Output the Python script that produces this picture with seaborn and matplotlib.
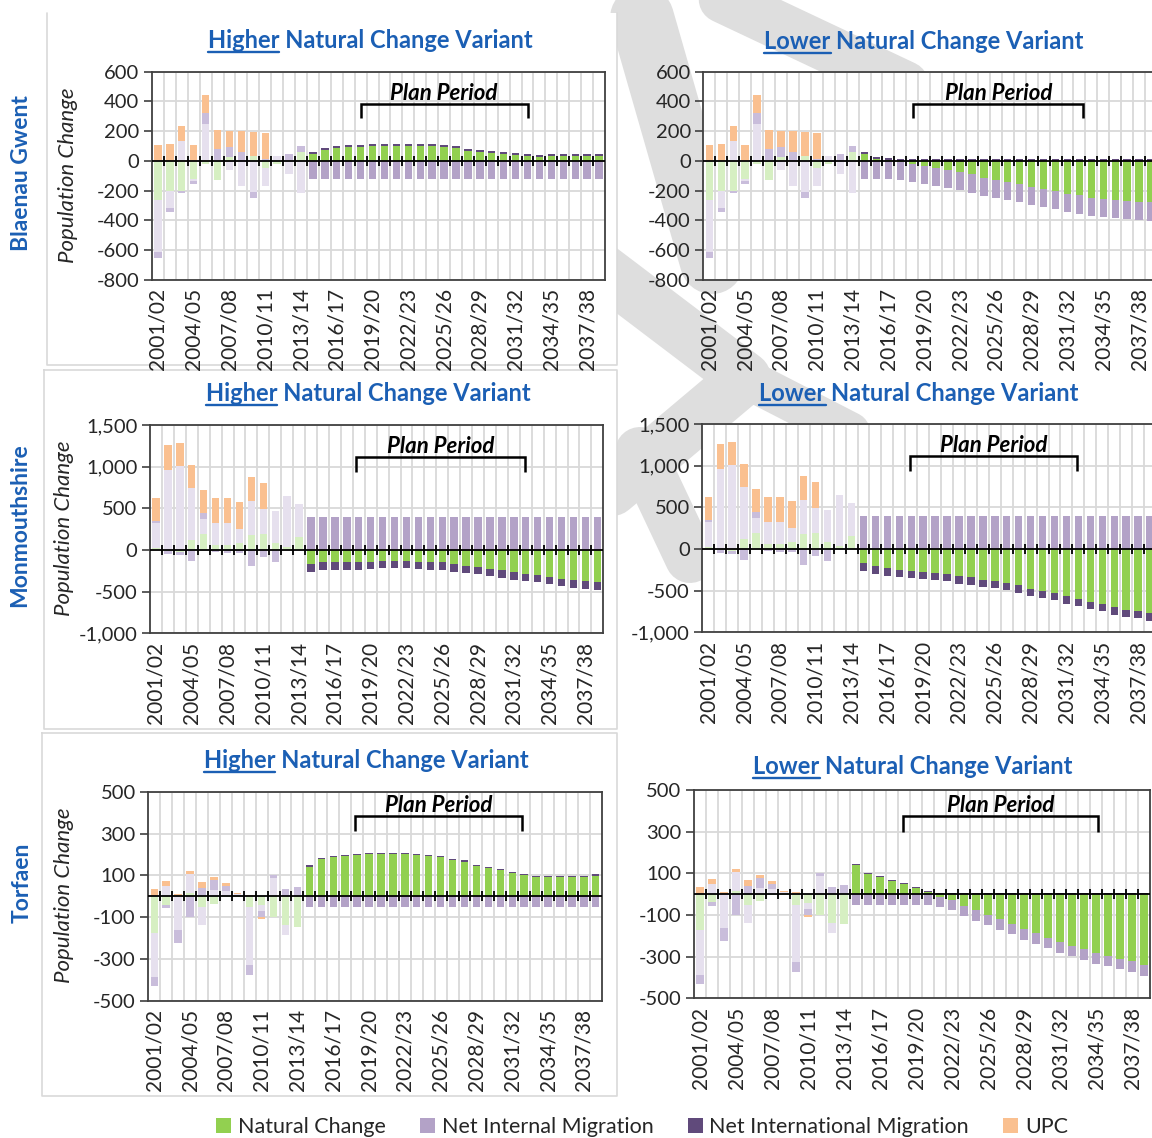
import numpy as np
import pandas as pd
import matplotlib
matplotlib.use("Agg")
import matplotlib.pyplot as plt
import matplotlib.transforms as mtransforms
from matplotlib.patches import Patch, Rectangle
from matplotlib.lines import Line2D
from matplotlib.ticker import FuncFormatter
import seaborn as sns

# ---------------------------------------------------------------- categories
years = ["2001/02", "2002/03", "2003/04", "2004/05", "2005/06", "2006/07",
         "2007/08", "2008/09", "2009/10", "2010/11", "2011/12", "2012/13",
         "2013/14", "2014/15", "2015/16", "2016/17", "2017/18", "2018/19",
         "2019/20", "2020/21", "2021/22", "2022/23", "2023/24", "2024/25",
         "2025/26", "2026/27", "2027/28", "2028/29", "2029/30", "2030/31",
         "2031/32", "2032/33", "2033/34", "2034/35", "2035/36", "2036/37",
         "2037/38", "2038/39"]
period = ["Recorded"] * 13 + ["Projected"] * 25
series_names = ["Natural Change", "Net Internal Migration",
                "Net International Migration", "UPC"]

# ---------------------------------------------------------------- Blaenau Gwent
bg_hist_natural = [-260, -203, -203, -118, -18, -130, 25, 3, 31, -45, -18, 0, 60]
bg_hist_internal = [-355, -116, 134, -15, 250, 5, -63, -170, -208, -125, 31, -89, -215]
bg_hist_intl = [-35, -22, -11, -25, 72, 75, 72, 60, -38, 10, 0, 49, 38]
bg_hist_upc = [105, 112, 98, 105, 123, 128, 103, 141, 165, 177, 0, 0, 0]
bg_proj_internal = [-123, -123, -123, -123, -123, -123, -123, -123, -123, -123,
                    -123, -123, -123, -123, -123, -123, -123, -123, -123, -123,
                    -123, -123, -123, -123, -123]
bg_proj_intl = [15, 13, 13, 13, 13, 13, 13, 13, 13, 13, 13, 13, 13, 13, 13,
                13, 13, 13, 13, 13, 13, 13, 13, 13, 13]
bg_high_natural = [47, 76, 85, 92, 92, 98, 98, 98, 98, 98, 98, 92, 85, 69, 63,
                   54, 47, 40, 31, 25, 31, 31, 31, 31, 36]
bg_low_natural = [45, 11, 5, -5, -18, -31, -45, -58, -74, -89, -112, -125, -141,
                  -156, -174, -188, -203, -219, -232, -246, -255, -259, -268,
                  -275, -279]

# ---------------------------------------------------------------- Monmouthshire
mon_hist_natural = [20, -15, -20, 120, 188, 60, 60, 80, 180, 192, 80, 40, 152]
mon_hist_internal = [300, 965, 1008, 620, 184, 260, 260, 172, 412, 300, 392, 608, 396]
mon_hist_intl = [28, -30, -45, -132, 68, -20, -32, -40, -188, -88, -148, -5, 0]
mon_hist_upc = [272, 295, 280, 280, 280, 300, 300, 328, 280, 316, 0, 0, 0]
mon_proj_internal = [400, 400, 400, 400, 400, 400, 400, 400, 400, 400, 400, 400,
                     400, 400, 400, 400, 400, 400, 400, 400, 400, 400, 400, 400, 400]
mon_proj_intl = [-96, -92, -92, -92, -90, -90, -90, -90, -90, -88, -90, -90, -88,
                 -90, -88, -88, -88, -90, -88, -90, -90, -88, -88, -90, -90]
mon_high_natural = [-172, -148, -148, -148, -148, -140, -132, -132, -132, -140,
                    -148, -150, -172, -188, -200, -228, -244, -268, -288, -300,
                    -320, -348, -364, -376, -388]
mon_low_natural = [-168, -208, -228, -248, -260, -276, -288, -300, -328, -340,
                   -368, -380, -408, -436, -476, -500, -528, -568, -600, -636,
                   -660, -700, -728, -744, -772]

# ---------------------------------------------------------------- Torfaen
tor_hist_natural = [-174, -40, 3, 14, -54, -35, -6, -5, -54, -41, -100, -140, -145]
tor_hist_internal = [-214, 51, -164, 91, -86, 29, 25, 10, -274, -32, 87, -45, 0]
tor_hist_intl = [-41, -16, -62, -100, 41, 48, 24, 0, -48, -27, 16, 35, 46]
tor_hist_upc = [35, 22, 8, 16, 26, 16, 16, 5, 8, -8, 0, 0, 0]
tor_proj_internal = [-50, -50, -50, -50, -50, -50, -50, -50, -50, -50, -50, -50,
                     -50, -50, -50, -50, -50, -50, -50, -50, -50, -50, -50, -50, -50]
tor_proj_intl = [5, 5, 5, 5, 5, 5, 5, 5, 5, 5, 5, 5, 5, 5, 5, 5, 5, 5, 5, 5, 5,
                 5, 5, 5, 5]
tor_high_natural = [142, 180, 186, 190, 198, 203, 203, 203, 203, 198, 191, 186,
                    175, 166, 143, 134, 123, 112, 100, 94, 94, 94, 94, 94, 99]
tor_low_natural = [138, 96, 80, 64, 48, 30, 8, -14, -27, -56, -78, -99, -120,
                   -142, -168, -187, -210, -232, -248, -264, -283, -296, -309,
                   -323, -341]

# ---------------------------------------------------------------- style
sns.set_theme(style="white")
plt.rcParams["font.family"] = ["Lato", "DejaVu Sans"]
plt.rcParams["axes.unicode_minus"] = False

BLUE = "#1B5FB4"
DARK = "#404040"
GRID = "#D9D9D9"
TEXT = "#262626"
MARK = "#DEDEDE"
PROJ_COLORS = ["#92D050", "#B3A2C7", "#604A7B", "#FAC090"]
HIST_COLORS = ["#D6EFC2", "#E6E0EE", "#C9BDDB", "#FAC090"]

W, H = 1152, 1138
fig = plt.figure(figsize=(W / 100, H / 100), dpi=100)
fig.patch.set_facecolor("white")


def fx(x):
    return x / W


def fy(y):
    return 1 - y / H


def add_axes_px(left, top, right, bottom):
    return fig.add_axes([fx(left), fy(bottom), (right - left) / W, (bottom - top) / H])


def frame_line(points):
    fig.add_artist(Line2D([fx(p[0]) for p in points], [fy(p[1]) for p in points],
                          transform=fig.transFigure, color=GRID, lw=1.2, zorder=-1))


def white_box(left, top, right, bottom):
    fig.add_artist(Rectangle((fx(left), fy(bottom)), (right - left) / W,
                             (bottom - top) / H, transform=fig.transFigure,
                             fc="white", ec="none", zorder=-1.5))


def mark_stroke(points, width_px):
    fig.add_artist(Line2D([fx(p[0]) for p in points], [fy(p[1]) for p in points],
                          transform=fig.transFigure, color=MARK,
                          lw=width_px * 0.72, solid_capstyle="round",
                          solid_joinstyle="round", zorder=-2))


def draw_panel(ax, natural, internal, intl, upc, ylim, yticks, bracket, bracket_y):
    vals = np.array([natural, internal, intl, upc], dtype=float)
    pos = np.cumsum(np.clip(vals, 0, None), axis=0)
    neg = np.cumsum(np.clip(vals, None, 0), axis=0)
    # stacked segments: draw cumulative totals from the outermost series inward
    for k in range(3, -1, -1):
        pal = {"Recorded": HIST_COLORS[k], "Projected": PROJ_COLORS[k]}
        for stack in (pos[k], neg[k]):
            df = pd.DataFrame({"year": years, "change": stack, "period": period})
            sns.barplot(data=df, x="year", y="change", hue="period", order=years,
                        hue_order=["Recorded", "Projected"], palette=pal,
                        dodge=False, width=0.62, saturation=1, errorbar=None,
                        legend=False, linewidth=0, ax=ax, zorder=2)
    ax.set_xlabel("")
    ax.set_ylabel("")
    ax.set_facecolor("white")
    ax.set_axisbelow(True)
    ax.yaxis.grid(True, color=GRID, lw=1.3)
    ax.xaxis.grid(False)
    for b in np.arange(0.5, len(years) - 1, 1.0):
        ax.axvline(b, color=GRID, lw=1.3, zorder=0.5)

    ax.set_xlim(-0.5, len(years) - 0.5)
    ax.set_ylim(*ylim)
    ax.set_yticks(yticks)
    ax.yaxis.set_major_formatter(FuncFormatter(lambda v, p: f"{v:,.0f}"))
    ax.tick_params(axis="y", left=True, length=6, width=1.2, color=DARK,
                   labelsize=14.5, labelcolor=TEXT, pad=3)
    ax.set_xticks(range(0, len(years), 3))
    ax.set_xticklabels(years[::3], rotation=90)
    ax.tick_params(axis="x", bottom=False, length=0, labelsize=15,
                   labelcolor=TEXT, pad=6)
    for s in ax.spines.values():
        s.set_visible(True)
        s.set_color(DARK)
        s.set_linewidth(1.3)

    # category axis sits on the zero line, with crossing tick marks
    ax.axhline(0, color="black", lw=1.3, zorder=4)
    h_px = ax.get_position().height * H
    y0 = (0 - ylim[0]) / (ylim[1] - ylim[0])
    d = 5.0 / h_px
    trans = mtransforms.blended_transform_factory(ax.transData, ax.transAxes)
    ax.vlines(np.arange(0.5, len(years) - 1, 1.0), y0 - d, y0 + d,
              transform=trans, color="black", lw=1.3, zorder=4)

    # plan period bracket
    l, r = bracket
    yb, yt = bracket_y
    ax.plot([l, l, r, r], [yb, yt, yt, yb], color="black", lw=1.8, zorder=5,
            solid_joinstyle="miter", solid_capstyle="butt")
    off = mtransforms.offset_copy(ax.transData, fig=fig, y=4, units="dots")
    ax.text((l + r) / 2, yt, "Plan Period", transform=off, ha="center",
            va="baseline", fontsize=16, fontweight="bold", fontstyle="italic",
            color="black", zorder=6)
    ax.set_ylim(*ylim)


renderer = fig.canvas.get_renderer()
TITLE_SIZE = 17


def panel_title(xc, baseline, word):
    rest = " Natural Change Variant"
    t = fig.text(fx(xc), fy(baseline), word + rest, ha="center", va="baseline",
                 fontsize=TITLE_SIZE, fontweight="bold", color=BLUE)
    bb = t.get_window_extent(renderer)
    probe = fig.text(0, 0, word, fontsize=TITLE_SIZE, fontweight="bold")
    wpx = probe.get_window_extent(renderer).width
    probe.remove()
    yline = fy(baseline + 4)
    fig.add_artist(Line2D([bb.x0 / W, (bb.x0 + wpx) / W], [yline, yline],
                          transform=fig.transFigure, color=BLUE, lw=1.7))


# ---------------------------------------------------------------- background mark
mark_stroke([(693, -15), (905, 85)], 48)
mark_stroke([(642, 18), (712, 262)], 64)
mark_stroke([(600, 268), (745, 378), (612, 490)], 52)
mark_stroke([(745, 378), (850, 432)], 40)
mark_stroke([(640, 452), (690, 558)], 50)

# ---------------------------------------------------------------- chart frames
white_box(47, 13, 617, 365)
white_box(44, 370, 617, 729)
white_box(42, 733, 617, 1096)
frame_line([(47, 13), (47, 365), (617, 365), (617, 13)])
frame_line([(44, 370), (617, 370), (617, 729), (44, 729), (44, 370)])
frame_line([(42, 733), (617, 733), (617, 1096), (42, 1096), (42, 733)])

# ---------------------------------------------------------------- panels
bg_ticks = [-800, -600, -400, -200, 0, 200, 400, 600]
mon_ticks = [-1000, -500, 0, 500, 1000, 1500]
tor_ticks = [-500, -300, -100, 100, 300, 500]

ax1 = add_axes_px(152, 71.7, 605, 280)
draw_panel(ax1, bg_hist_natural + bg_high_natural, bg_hist_internal + bg_proj_internal,
           bg_hist_intl + bg_proj_intl, bg_hist_upc + [0] * 25,
           (-800, 600), bg_ticks, (17.0, 31.0), (288, 384))
ax2 = add_axes_px(703.4, 71.7, 1157, 280)
draw_panel(ax2, bg_hist_natural + bg_low_natural, bg_hist_internal + bg_proj_internal,
           bg_hist_intl + bg_proj_intl, bg_hist_upc + [0] * 25,
           (-800, 600), bg_ticks, (17.1, 31.3), (288, 384))

ax3 = add_axes_px(150, 425, 603.3, 633.3)
draw_panel(ax3, mon_hist_natural + mon_high_natural, mon_hist_internal + mon_proj_internal,
           mon_hist_intl + mon_proj_intl, mon_hist_upc + [0] * 25,
           (-1000, 1500), mon_ticks, (16.8, 30.9), (940, 1120))
ax4 = add_axes_px(702.3, 424, 1156, 632.3)
draw_panel(ax4, mon_hist_natural + mon_low_natural, mon_hist_internal + mon_proj_internal,
           mon_hist_intl + mon_proj_intl, mon_hist_upc + [0] * 25,
           (-1000, 1500), mon_ticks, (16.9, 30.9), (932, 1112))

ax5 = add_axes_px(148.3, 791.7, 601.7, 1000.7)
draw_panel(ax5, tor_hist_natural + tor_high_natural, tor_hist_internal + tor_proj_internal,
           tor_hist_intl + tor_proj_intl, tor_hist_upc + [0] * 25,
           (-500, 500), tor_ticks, (16.8, 30.8), (313, 384))
ax6 = add_axes_px(694, 790, 1150, 998.3)
draw_panel(ax6, tor_hist_natural + tor_low_natural, tor_hist_internal + tor_proj_internal,
           tor_hist_intl + tor_proj_intl, tor_hist_upc + [0] * 25,
           (-500, 500), tor_ticks, (16.95, 33.2), (296, 376))

# ---------------------------------------------------------------- titles and labels
panel_title(370, 48, "Higher")
panel_title(924, 49, "Lower")
panel_title(368, 401, "Higher")
panel_title(919, 401, "Lower")
panel_title(366, 768, "Higher")
panel_title(913, 774, "Lower")

for name, (x, y) in {"Blaenau Gwent": (22, 173), "Monmouthshire": (20, 525),
                     "Torfaen": (22, 883)}.items():
    fig.text(fx(x), fy(y), name, rotation=90, ha="center", va="center",
             fontsize=16.5, fontweight="bold", color=BLUE)

for x, y in [(68, 175), (64, 528), (64, 895)]:
    fig.text(fx(x), fy(y), "Population Change", rotation=90, ha="center",
             va="center", fontsize=16, fontstyle="italic", color=TEXT)

handles = [Patch(facecolor=c, edgecolor="none") for c in PROJ_COLORS]
fig.legend(handles, series_names, loc="center", bbox_to_anchor=(fx(642), fy(1127)),
           ncol=4, frameon=False, fontsize=15.5, handlelength=0.7, handleheight=0.7,
           handletextpad=0.3, columnspacing=1.6, borderaxespad=0,
           labelcolor=TEXT)

fig.savefig("out.png", dpi=100, facecolor="white")
